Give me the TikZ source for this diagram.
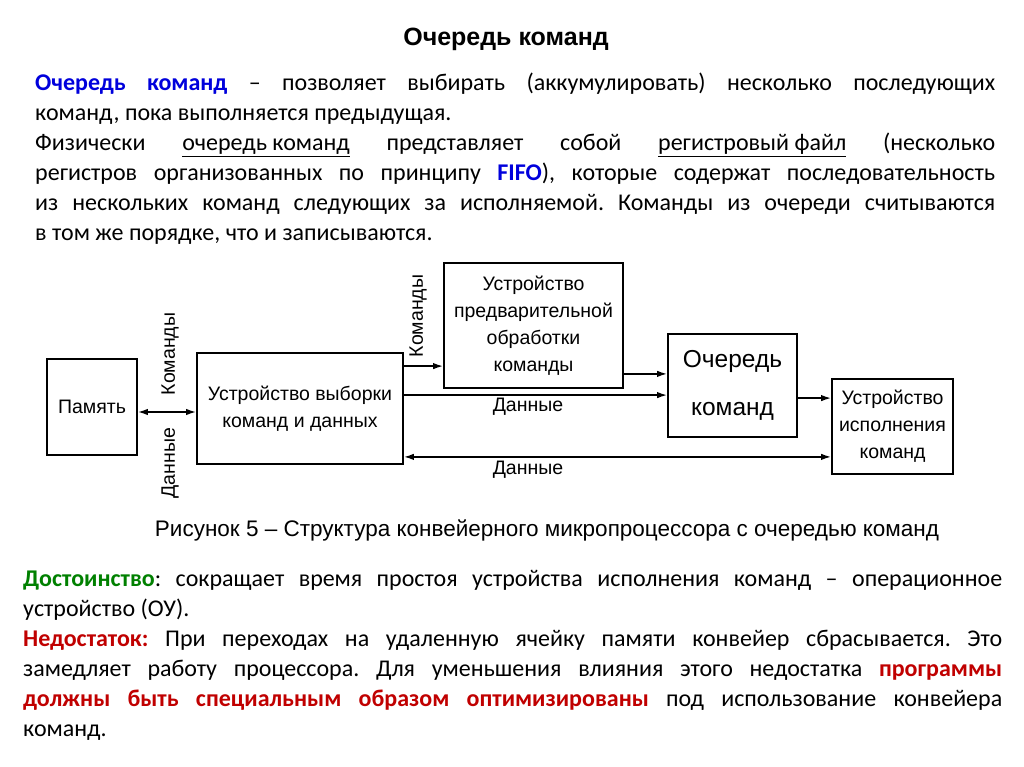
\documentclass[tikz,border=0pt]{standalone}
\usepackage{fontspec}
\setmainfont{Carlito}
\newfontfamily\arialfont{Liberation Sans}
\usetikzlibrary{arrows.meta, positioning}
\definecolor{qblue}{RGB}{0,0,220}
\definecolor{qgreen}{RGB}{0,128,0}
\definecolor{qred}{RGB}{192,0,0}
\setlength{\parindent}{0pt}
\hyphenpenalty=10000
\exhyphenpenalty=10000
\frenchspacing

\begin{document}
\begin{tikzpicture}[
    x=1pt, y=-1pt,
    unit/.style={draw, line width=1.8pt, inner sep=0pt, align=center,
      font=\arialfont\fontsize{19.5}{27}\selectfont},
    bus/.style={line width=1.6pt, -{Latex[length=10pt, width=6.5pt]}},
    busboth/.style={line width=1.6pt,
      {Latex[length=10pt, width=6.5pt]}-{Latex[length=10pt, width=6.5pt]}},
    lbl/.style={inner sep=0pt, font=\arialfont\fontsize{19.5}{23}\selectfont},
    body/.style={anchor=north west, inner sep=0pt, align=justify,
      font=\fontsize{24}{30}\selectfont},
  ]
    \useasboundingbox (0,0) rectangle (1024,767);
    % heading
    \node[inner sep=0pt, font=\arialfont\bfseries\fontsize{25}{28}\selectfont]
      (title) at (506,39) {Очередь команд};
    % text above the figure
    \node[body, text width=960pt] (intro) at (35,73) {%
      \textcolor{qblue}{\textbf{Очередь команд}} – позволяет выбирать
      (аккумулировать) несколько последующих\linebreak
      команд, пока выполняется предыдущая.\par
      Физически \underline{очередь команд} представляет собой
      \underline{регистровый файл} (несколько\linebreak
      регистров организованных по принципу \textcolor{qblue}{\textbf{FIFO}}),
      которые содержат последовательность\linebreak
      из нескольких команд следующих за исполняемой. Команды из очереди
      считываются\linebreak
      в том же порядке, что и записываются.};
    % units
    \node[unit, minimum width=90pt, minimum height=96pt] (mem) at (92,407) {Память};
    \node[unit, minimum width=206pt, minimum height=111pt] (fetch) at (300,408.5)
      {Устройство выборки\\команд и данных};
    \node[unit, minimum width=179pt, minimum height=125pt] (pre) at (533.5,325.5)
      {Устройство\\предварительной\\обработки\\команды};
    \node[unit, minimum width=129pt, minimum height=103pt,
      font=\arialfont\fontsize{24.5}{48}\selectfont] (queue) at (732.5,385.5)
      {Очередь\\команд};
    \node[unit, minimum width=121pt, minimum height=95pt] (exec) at (892.5,426.5)
      {Устройство\\исполнения\\команд};
    % buses
    \draw[busboth] ([yshift=-5pt]mem.east) coordinate (m1) -- (m1 -| fetch.west);
    \draw[bus] ([yshift=-14pt]fetch.north east) coordinate (f1) -- (f1 -| pre.west);
    \draw[bus] ([yshift=-43pt]fetch.north east) coordinate (f2) -- (f2 -| queue.west);
    \draw[busboth] ([yshift=8pt]fetch.south east) coordinate (f3) -- (f3 -| exec.west);
    \draw[bus] ([yshift=15pt]pre.south east) coordinate (p1) -- (p1 -| queue.west);
    \draw[bus] ([yshift=-65pt]queue.north east) coordinate (q1) -- (q1 -| exec.west);
    % bus labels
    \node[lbl, rotate=90] (cmd1) at (170,354) {Команды};
    \node[lbl, rotate=90] (dat1) at (170,463) {Данные};
    \node[lbl, rotate=90] (cmd2) at (418,316) {Команды};
    \node[lbl] (dat2) at (528,407) {Данные};
    \node[lbl] (dat3) at (528,470) {Данные};
    % caption
    \node[inner sep=0pt, font=\arialfont\fontsize{22.5}{26}\selectfont]
      (caption) at (547,530)
      {Рисунок 5 – Структура конвейерного микропроцессора с очередью команд};
    % text below the figure
    \node[body, text width=979pt] (summary) at (23,570) {%
      \textcolor{qgreen}{\textbf{Достоинство}}: сокращает время простоя
      устройства исполнения команд – операционное\linebreak
      устройство (ОУ).\par
      \textcolor{qred}{\textbf{Недостаток:}} При переходах на удаленную ячейку
      памяти конвейер сбрасывается. Это\linebreak
      замедляет работу процессора. Для уменьшения влияния этого недостатка
      \textcolor{qred}{\textbf{программы}}\linebreak
      \textcolor{qred}{\textbf{должны быть специальным образом оптимизированы}}
      под использование конвейера\linebreak
      команд.};
\end{tikzpicture}
\end{document}
